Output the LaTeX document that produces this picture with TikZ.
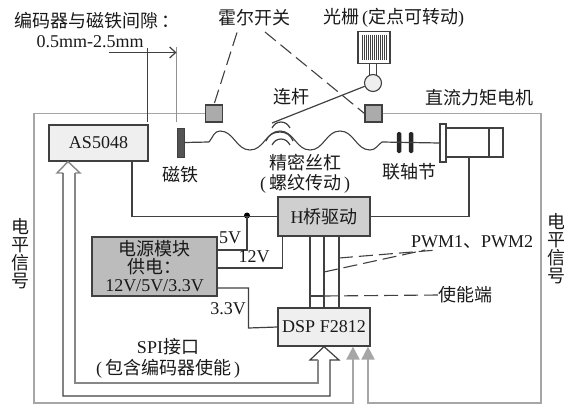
\documentclass[tikz,border=0pt]{standalone}
\usepackage{xcolor}
\usepackage{fontspec}
\setmainfont{Liberation Serif}
\newfontfamily\cjk{Noto Sans CJK SC}
\newcommand{\zh}[1]{{\cjk #1}}
\usepackage{tikz}
\usetikzlibrary{arrows.meta}
\definecolor{inkline}{HTML}{404040}
\definecolor{levelgray}{HTML}{A6A6A6}
\definecolor{hallgray}{HTML}{ABABAB}
\definecolor{powergray}{HTML}{BCBCBC}
\definecolor{bridgegray}{HTML}{CFCFCF}
\definecolor{chipgray}{HTML}{EFEFEF}
\tikzset{
  ctrlblock/.style={
    rectangle, draw=inkline, fill=#1, line width=1.2pt,
    inner sep=0pt, align=center, text=black!90
  },
  ctrlblock/.default=chipgray,
  hallblock/.style={
    rectangle, draw=inkline, fill=hallgray, line width=1.1pt,
    minimum width=17pt, minimum height=17pt, inner sep=0pt
  },
  partblock/.style={
    rectangle, draw=inkline, fill=white, line width=1.1pt, inner sep=0pt
  },
  wireline/.style={draw=inkline, line width=1.2pt},
  levelline/.style={draw=levelgray, line width=1.9pt},
  noteline/.style={draw=inkline, line width=1.1pt, dash pattern=on 14pt off 6pt},
  levelarrow/.style={levelline, -{Triangle[length=13pt,width=13pt]}},
  labelnode/.style={font=\fontsize{18}{20}\selectfont, text=black!90, inner sep=0pt, align=center},
}
\begin{document}
\begin{tikzpicture}[x=1pt, y=-1pt, font=\fontsize{18}{20}\selectfont]
  \useasboundingbox (0,0) rectangle (564,407);
  % blocks
  \node[ctrlblock, minimum width=99pt, minimum height=36pt] (as5048) at (98.5,143) {AS5048};
  \node[ctrlblock=bridgegray, minimum width=92pt, minimum height=39pt] (hbridge) at (324,216.5) {H\zh{桥驱动}};
  \node[ctrlblock, minimum width=92pt, minimum height=38pt] (dsp) at (324,327) {DSP F2812};
  \node[ctrlblock=powergray, minimum width=125pt, minimum height=59pt, font=\fontsize{18}{19}\selectfont] (power) at (154.5,266.5)
    {\zh{电源模块}\\[-1pt]\zh{供电：}\\[-1pt]12V/5V/3.3V};
  \node[hallblock] (hallleft) at (214,113.5) {};
  \node[hallblock] (hallright) at (373.5,113.5) {};
  % screw, coupling, motor
  \node[rectangle, draw=inkline, fill=inkline!90, minimum width=7pt, minimum height=29pt, inner sep=0pt] (magnet) at (180.5,142.5) {};
  \node[rectangle, fill=black!85, rounded corners=1.5pt, minimum width=4.5pt, minimum height=21pt, inner sep=0pt] (couplea) at (399,142.5) {};
  \node[rectangle, fill=black!85, rounded corners=1.5pt, minimum width=4.5pt, minimum height=21pt, inner sep=0pt] (coupleb) at (411,142.5) {};
  \node[partblock, minimum width=43pt, minimum height=29pt] (motor) at (467.5,142.5) {};
  \node[partblock, minimum width=14pt, minimum height=29pt] (motorend) at (496,142.5) {};
  \node[partblock, minimum width=6pt, minimum height=38pt] (flange) at (443,143) {};
  \coordinate (screwa) at (209,142);
  \coordinate (screwb) at (382,142);
  \draw[wireline] (magnet.east) -- (screwa);
  \draw[wireline, line width=1.1pt] (screwa) to[out=50,in=180] (220,131) to[out=0,in=180] (250,150)
    to[out=0,in=180] (280,131) to[out=0,in=180] (310,150) to[out=0,in=180] (340,131)
    to[out=0,in=180] (370,150) to[out=0,in=215] (screwb);
  \draw[wireline] (screwb) -- (flange.west);
  % grating on its lever
  \node[partblock, minimum width=32pt, minimum height=32pt] (grating) at (374,47.5) {};
  \foreach \x in {362.5,364.5,...,386.5} {
    \draw[inkline, line width=1pt] (\x,34.5) -- (\x,60);
  }
  \draw[wireline] (369.5,63.5) -- (369.5,75) (376.5,63.5) -- (376.5,75);
  \node[circle, draw=inkline, fill=chipgray, line width=1.1pt, minimum size=17pt, inner sep=0pt] (pivot) at (373,83) {};
  \coordinate (leverend) at (272,123);
  \draw[wireline] (pivot) -- (leverend);
  \draw[wireline] (272,128) to[out=60,in=180] (281,122) to[out=0,in=120] (290,128);
  \draw[wireline] (266,141) to[out=70,in=180] (280,132) to[out=0,in=110] (293,141);
  \draw[wireline] (272,145) to[out=60,in=180] (281,139) to[out=0,in=120] (290,145);
  % wires
  \coordinate (dota) at (247,215.5);
  \fill[black] (dota) circle (3pt);
  \coordinate (dspleft) at (248.5,328);
  \draw[wireline] (as5048.south -| 132,0) |- (hbridge.west);
  \draw[wireline] (motor.south -| 469,0) |- (hbridge.east);
  \draw[wireline] (power.east |- 0,250) -| (dota);
  \draw[wireline] (power.east |- 0,268) -| (hbridge.south -| 282.5,0);
  \draw[wireline] (power.east |- 0,288) -| (dspleft) -- (dsp.west);
  \foreach \x in {310,324,339} {
    \draw[wireline] (hbridge.south -| \x,0) -- (dsp.north -| \x,0);
  }
  % level signal lines
  \coordinate (levelleft) at (34,403);
  \coordinate (levelright) at (541,403);
  \draw[levelarrow] (hallleft.west) -| (levelleft) -| (dsp.south -| 353,0);
  \draw[levelarrow] (hallright.east) -| (levelright) -| (dsp.south -| 368,0);
  % SPI double line
  \draw[draw=levelgray!70!inkline, line width=1.4pt] (75,173) -- (80,173) -- (as5048.south -| 68,0) -- (57,173) -- (63,173);
  \draw[wireline] (63,173) |- (330,396) -- (330,360) -- (339,360) -- (dsp.south) -- (310,360) -- (318,360);
  \draw[draw=levelgray!70!inkline, line width=1.4pt] (75,173) |- (318,383) -- (318,360);
  % gap marks
  \coordinate (gapa) at (147.5,48);
  \coordinate (gapb) at (176.5,47);
  \coordinate (gapstart) at (109,52.5);
  \draw[wireline] (gapa) -- (147.5,122);
  \draw[draw=levelgray!80!inkline, line width=1.2pt] (gapb) -- (176.5,122);
  \draw[wireline, -{Straight Barb[length=6pt,width=11pt]}] (gapstart) -- (176.5,52.5);
  % labels
  \node[labelnode] (gaplabel) at (97,21) {\zh{编码器与磁铁间隙\,：}};
  \node[labelnode] (gapvalue) at (90,42) {0.5mm-2.5mm};
  \node[labelnode] (halllabel) at (254,18) {\zh{霍尔开关}};
  \node[labelnode] (gratinglabel) at (393.5,18) {\zh{光栅}\,(\zh{定点可转动})};
  \node[labelnode] (leverlabel) at (291,97) {\zh{连杆}};
  \node[labelnode] (motorlabel) at (479,98) {\zh{直流力矩电机}};
  \node[labelnode] (magnetlabel) at (180,175) {\zh{磁铁}};
  \node[labelnode] (couplelabel) at (409,172) {\zh{联轴节}};
  \node[labelnode] (screwlabel) at (305,163) {\zh{精密丝杠}};
  \node[labelnode] (screwnote) at (305,184) {(\,\zh{螺纹传动}\,)};
  \node[labelnode] (fivev) at (230,238) {5V};
  \node[labelnode] (twelvev) at (254,257) {12V};
  \node[labelnode] (threev) at (228,309) {3.3V};
  \node[labelnode] (spilabel) at (168,347) {SPI\zh{接口}};
  \node[labelnode] (spinote) at (168,369) {(\,\zh{包含编码器使能}\,)};
  \node[labelnode] (pwmlabel) at (472,242) {PWM1\zh{、}PWM2};
  \node[labelnode] (enlabel) at (465,295) {\zh{使能端}};
  \node[labelnode, font=\fontsize{18}{18}\selectfont] (levela) at (21,254) {\zh{电}\\\zh{平}\\\zh{信}\\\zh{号}};
  \node[labelnode, font=\fontsize{18}{18}\selectfont] (levelb) at (556,249) {\zh{电}\\\zh{平}\\\zh{信}\\\zh{号}};
  % note lines
  \draw[noteline] (halllabel.south -| 237,0) ++(0,6) -- (hallleft.north);
  \draw[noteline] (265,32) -- (hallright.west);
  \coordinate (pwmend) at (437,250);
  \coordinate (pwmendb) at (425,250);
  \draw[noteline] (339,258) -- (pwmend);
  \draw[noteline] (324,272) -- (pwmendb);
  \draw[wireline] (310,296) -- (324,296);
  \draw[noteline] (324,296) -- (enlabel.west);
\end{tikzpicture}
\end{document}
